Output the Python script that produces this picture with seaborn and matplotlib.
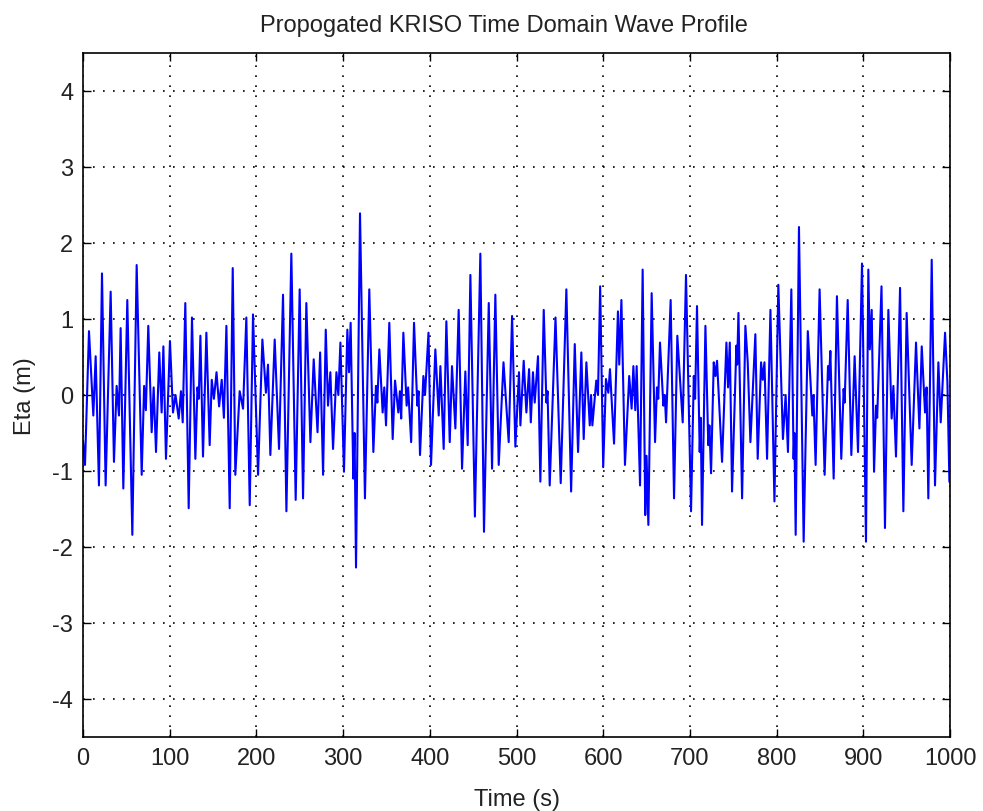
import matplotlib
matplotlib.use("Agg")
import matplotlib.pyplot as plt
import seaborn as sns
import pandas as pd

# ---- data (extrema of the wave record) ----
time_s = [
    0, 2.3, 6.9, 11.9, 14.6, 18.4, 21.9, 26.1, 31.9, 35.7, 38.8, 41.5, 43.4, 46.5, 51.1, 56.9, 61.9, 67.7,
    70.5, 72.5, 75.3, 79.2, 81.5, 84.2, 88, 90.7, 92.7, 95.7,
    100.3, 103.8, 106.7, 110.4, 113, 115, 118, 121.9, 125.7, 129.6, 132, 133.5, 135.4, 138.4, 142.3, 146.1,
    148.5, 151, 154, 157, 160, 162.5, 165.4, 169.2, 172.7, 175.7, 180.7, 184.6, 188.4, 192.3, 196.1,
    201.9, 206.9, 211, 213.4, 216.1, 221.1, 226.1, 230.7, 234.6, 240.3, 245.3, 249.9, 253.8, 257.6, 262.3,
    266.1, 270.5, 273.5, 276.9, 280, 282.6, 285.3, 288.4, 292.3, 294.5, 296.9,
    301, 304.9, 306.8, 308.7, 311.8, 313.2, 314.9, 319.5, 325.2, 330.2, 334.9, 337.9, 339.5, 341.8, 345.6,
    347.5, 349.5, 353.3, 357.2, 359.9, 363.7, 365.5, 367, 369.5, 373.3, 375, 378.5, 381.8, 385.6, 387,
    388.7, 392.6, 394.5, 398.5,
    401.4, 406.4, 410.3, 412.2, 416, 419.1, 423, 425.6, 429.5, 433.3, 437.2, 441, 443.7, 446.8, 452, 458.3,
    462.5, 468, 471.8, 475.6, 479.5, 485, 491, 494.9, 498.7,
    502.9, 504.5, 508.3, 511.4, 514.5, 516.5, 519, 521, 524.8, 527.5, 531.4, 534.5, 535.8, 538.3, 545, 551,
    557.5, 563, 567.2, 571, 574.8, 577.5, 580.6, 584.5, 586, 587.5, 592, 594, 596.5, 600,
    603.2, 605.9, 607.8, 612.5, 617, 618.5, 621, 625.1, 630, 632.8, 634.8, 637, 638.6, 642.5, 645.5, 648.5,
    650, 652.1, 655.9, 659.8, 662, 663.5, 665.5, 669.4, 671, 672.5, 677.8, 681.7, 685.5, 691.7, 695.5,
    701.3, 704.5, 706, 708.2, 711.3, 712.5, 714, 717.9, 721.2, 722.5, 724.4, 727.5, 729.5, 731.3, 737.1,
    742.1, 744, 746, 748.6, 753.6, 754.5, 756, 760.2, 764, 766.7, 769.8, 775.5, 778.2, 782.1, 784, 786,
    789, 792.9, 797.5,
    802, 807.3, 810.4, 813.1, 817, 819.6, 820.5, 822, 825.8, 831.2, 836, 841.2, 842.5, 845, 849.6, 855.4,
    859.3, 860.5, 862, 865.8, 869.6, 874.6, 877.3, 878.5, 882, 886.2, 890, 893.9, 898.5,
    903.1, 905.8, 907.5, 909.7, 912.4, 914.7, 916, 921, 925, 928.9, 932.7, 934.7, 937.7, 942.4, 946.2, 950,
    955.8, 960.8, 964.7, 967.4, 971.2, 973, 975, 978.9, 982.7, 986.6, 989.3, 994.3, 997, 999.3, 1000,
]
eta_m = [
    -0.6, -0.92, 0.84, -0.27, 0.51, -1.19, 1.60, -1.19, 1.36, -0.88, 0.12, -0.27, 0.88, -1.23, 1.25, -1.84, 1.71, -1.05,
    0.12, -0.2, 0.91, -0.49, 0.1, -0.75, 0.56, -0.23, 0.64, -0.84,
    0.71, -0.23, 0.0, -0.31, 0.05, -0.36, 1.21, -1.49, 1.02, -0.84, 0.1, -0.05, 0.78, -0.81, 0.82, -0.66,
    0.2, -0.05, 0.3, -0.15, 0.2, -0.3, 0.91, -1.49, 1.67, -1.05, 0.05, -0.18, 1.02, -1.45, 1.06,
    -1.05, 0.73, 0.03, 0.4, -0.79, 0.73, -0.71, 1.32, -1.53, 1.86, -1.38, 1.39, -1.36, 1.21, -0.62,
    0.47, -0.49, 0.56, -1.05, 0.86, -0.14, 0.3, -0.71, 0.3, 0.0, 0.69,
    -1.01, 0.86, 0.3, 0.95, -1.1, -0.5, -2.27, 2.39, -1.36, 1.39, -0.75, 0.12, -0.1, 0.6, -0.23,
    0.1, -0.4, 0.95, -0.58, 0.19, -0.23, 0.05, -0.31, 0.82, -0.14, 0.1, -0.62, 0.95, -0.14, 0.05,
    -0.79, 0.25, 0.0, 0.82,
    -0.92, 0.6, -0.27, 0.38, -0.71, 0.97, -0.62, 0.38, -0.44, 1.12, -0.97, 0.31, -0.66, 1.58, -1.6, 1.86,
    -1.8, 1.21, -0.97, 1.32, -0.92, 0.43, -0.62, 1.04, -0.68,
    0.3, -0.4, 0.45, -0.23, 0.34, -0.36, 0.3, -0.1, 0.51, -1.14, 1.12, -0.1, 0.05, -1.19, 1.02, -1.16,
    1.39, -1.27, 0.67, -0.75, 0.56, -0.58, 0.43, -0.4, 0.0, -0.4, 0.19, 0.0, 1.43, -0.95,
    0.21, 0.03, 0.34, -0.64, 1.1, 0.4, 1.25, -0.92, 0.25, -0.18, 0.38, -0.2, 0.38, -1.19, 1.65, -1.58,
    -0.8, -1.71, 1.34, -0.62, 0.1, -0.05, 0.69, -0.14, 0.0, -0.36, 1.25, -1.36, 0.78, -0.36, 1.58,
    -1.53, 0.25, -0.05, 1.17, -0.75, -0.3, -1.71, 0.91, -0.66, -0.4, -1.03, 0.43, 0.25, 0.45, -0.88,
    0.69, 0.1, 0.69, -1.27, 0.65, 0.4, 1.08, -1.36, 0.91, 0.43, -0.62, 0.8, -0.84, 0.43, 0.2, 0.43,
    -0.84, 1.12, -1.4,
    1.45, -0.58, 0.0, -0.75, 1.39, -0.84, -0.5, -1.84, 2.21, -1.93, 0.84, -0.27, 0.0, -0.92, 1.39, -1.05,
    0.38, 0.2, 0.58, -1.1, 1.3, -0.84, 0.08, -0.1, 1.25, -0.79, 0.51, -0.75, 1.73,
    -1.93, 1.65, 0.6, 1.12, -1.01, -0.14, -0.3, 1.43, -1.75, 1.12, -0.31, 0.12, -0.81, 1.41, -1.53, 1.08,
    -0.92, 0.69, -0.44, 0.64, -0.23, 0.1, -1.36, 1.78, -1.19, 0.43, -0.36, 0.82, 0.17, -1.14, -1.15,
]
x_ticks = list(range(0, 1001, 100))
y_ticks = [-4, -3, -2, -1, 0, 1, 2, 3, 4]
title_text = "Propogated KRISO Time Domain Wave Profile"
x_label = "Time (s)"
y_label = "Eta (m)"

df = pd.DataFrame({"Time (s)": time_s, "Eta (m)": eta_m})

sns.set_theme(style="white")
plt.rcParams["font.family"] = ["Liberation Sans", "DejaVu Sans"]
FS = 17

W, H = 983, 812
fig = plt.figure(figsize=(W / 100, H / 100), dpi=100)
fig.patch.set_facecolor("white")
L, R, T, B = 83, 950, 54, 738
ax = fig.add_axes([L / W, 1 - B / H, (R - L) / W, (B - T) / H])
ax.set_facecolor("white")

sns.lineplot(data=df, x="Time (s)", y="Eta (m)", ax=ax, color="#0000ff",
             linewidth=1.5, estimator=None, sort=False, legend=False)

ax.set_xlim(0, 1000)
ax.set_ylim(-4.5, 4.5)
ax.set_xticks(x_ticks)
ax.set_yticks(y_ticks)
ax.set_xticklabels([str(v) for v in x_ticks], fontsize=FS)
ax.set_yticklabels([str(v) for v in y_ticks], fontsize=FS)
ax.tick_params(direction="in", length=6, width=1.0, color="black",
               top=True, right=True, bottom=True, left=True, pad=7, labelcolor="#222222")
ax.grid(True, color="black", linestyle=(0, (1, 5)), linewidth=1.2)
for s in ax.spines.values():
    s.set_color("black")
    s.set_linewidth(1.2)
    s.set_visible(True)

ax.set_title(title_text, fontsize=FS, color="#222222", pad=16, x=(504 - L) / (R - L))
ax.set_xlabel(x_label, fontsize=FS, color="#222222", labelpad=14)
ax.set_ylabel(y_label, fontsize=FS, color="#222222", labelpad=12)

fig.savefig("out.png", dpi=100)
